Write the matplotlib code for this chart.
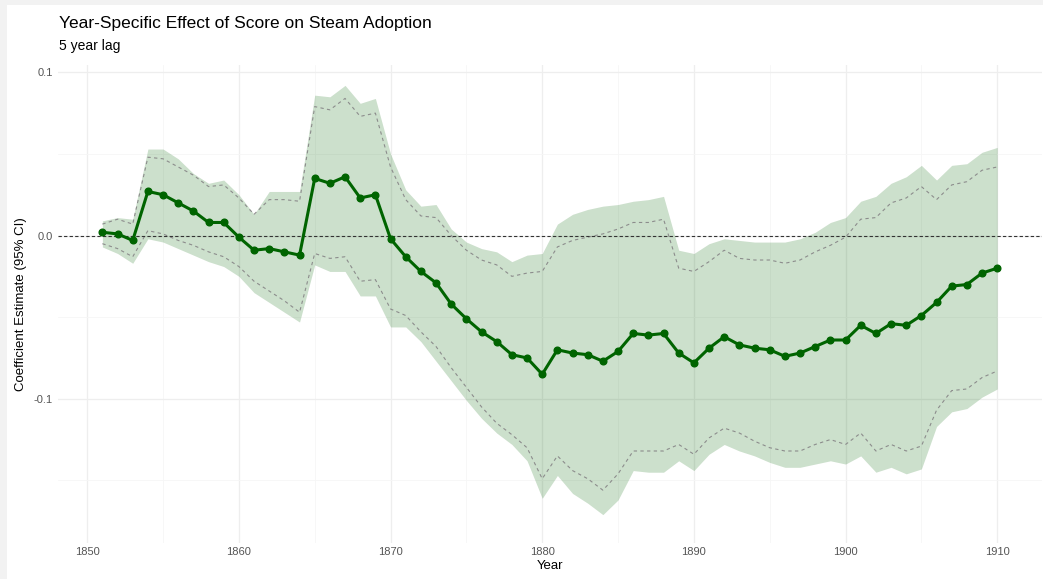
import matplotlib
matplotlib.use("Agg")
import matplotlib.pyplot as plt
import matplotlib.patches as mpatches
import numpy as np

plt.rcParams['font.family'] = ['Liberation Sans', 'DejaVu Sans']

# Year-specific coefficients (5 year lag)
years = list(range(1851, 1911))

estimate = [
    0.002, 0.001, -0.003, 0.027, 0.025, 0.020, 0.015, 0.008, 0.008, -0.001,
    -0.009, -0.008, -0.010, -0.012, 0.035, 0.032, 0.036, 0.023, 0.025, -0.002,
    -0.013, -0.022, -0.029, -0.042, -0.051, -0.059, -0.065, -0.073, -0.075, -0.085,
    -0.070, -0.072, -0.073, -0.077, -0.071, -0.060, -0.061, -0.060, -0.072, -0.078,
    -0.069, -0.062, -0.067, -0.069, -0.070, -0.074, -0.072, -0.068, -0.064, -0.064,
    -0.055, -0.060, -0.054, -0.055, -0.049, -0.041, -0.031, -0.030, -0.023, -0.020,
]

# 95% confidence band
ci95_upper = [
    0.009, 0.011, 0.010, 0.053, 0.053, 0.047, 0.038, 0.032, 0.034, 0.025,
    0.013, 0.027, 0.027, 0.027, 0.086, 0.085, 0.092, 0.081, 0.084, 0.050,
    0.028, 0.018, 0.019, 0.004, -0.004, -0.008, -0.010, -0.016, -0.012, -0.011,
    0.007, 0.013, 0.016, 0.018, 0.019, 0.021, 0.022, 0.024, -0.009, -0.011,
    -0.005, -0.002, -0.003, -0.004, -0.004, -0.004, -0.002, 0.002, 0.008, 0.011,
    0.021, 0.024, 0.032, 0.036, 0.043, 0.034, 0.043, 0.044, 0.051, 0.054,
]
ci95_lower = [
    -0.007, -0.011, -0.017, -0.002, -0.004, -0.008, -0.012, -0.016, -0.019, -0.025,
    -0.035, -0.041, -0.047, -0.053, -0.018, -0.022, -0.022, -0.037, -0.037, -0.056,
    -0.056, -0.065, -0.077, -0.089, -0.101, -0.112, -0.121, -0.128, -0.138, -0.161,
    -0.147, -0.158, -0.164, -0.171, -0.162, -0.144, -0.145, -0.145, -0.138, -0.144,
    -0.134, -0.128, -0.132, -0.135, -0.139, -0.142, -0.142, -0.140, -0.138, -0.140,
    -0.135, -0.145, -0.142, -0.146, -0.143, -0.117, -0.108, -0.106, -0.099, -0.094,
]

# Inner (dashed) interval
inner_upper = [
    0.007, 0.010, 0.007, 0.048, 0.047, 0.042, 0.037, 0.030, 0.031, 0.023,
    0.013, 0.022, 0.022, 0.021, 0.079, 0.077, 0.084, 0.073, 0.075, 0.042,
    0.022, 0.012, 0.011, 0.000, -0.009, -0.015, -0.018, -0.025, -0.023, -0.022,
    -0.007, -0.003, -0.001, 0.001, 0.004, 0.008, 0.008, 0.010, -0.020, -0.022,
    -0.016, -0.009, -0.014, -0.015, -0.015, -0.017, -0.015, -0.010, -0.006, -0.001,
    0.010, 0.011, 0.020, 0.023, 0.030, 0.022, 0.031, 0.033, 0.040, 0.042,
]
inner_lower = [
    -0.005, -0.008, -0.013, 0.003, 0.001, -0.003, -0.006, -0.010, -0.013, -0.019,
    -0.028, -0.034, -0.040, -0.047, -0.011, -0.014, -0.013, -0.028, -0.027, -0.045,
    -0.049, -0.059, -0.068, -0.081, -0.093, -0.105, -0.115, -0.122, -0.130, -0.149,
    -0.135, -0.144, -0.149, -0.156, -0.146, -0.132, -0.132, -0.132, -0.128, -0.134,
    -0.124, -0.118, -0.121, -0.126, -0.130, -0.132, -0.132, -0.128, -0.125, -0.128,
    -0.121, -0.132, -0.128, -0.132, -0.129, -0.107, -0.095, -0.094, -0.087, -0.083,
]

x_ticks = [1850, 1860, 1870, 1880, 1890, 1900, 1910]
y_ticks = [-0.1, 0.0, 0.1]
y_tick_labels = ["-0.1", "0.0", "0.1"]

line_green = "#006400"

fig = plt.figure(figsize=(10.43, 5.79), dpi=100, facecolor="white")
ax = fig.add_axes([0.056, 0.0618, 0.943, 0.826])
ax.set_facecolor("white")

# Grid (major + minor), minimal theme look
ax.set_xticks(x_ticks)
ax.set_xticks([1855, 1865, 1875, 1885, 1895, 1905], minor=True)
ax.set_yticks(y_ticks)
ax.set_yticks([-0.15, -0.05, 0.05], minor=True)
ax.grid(which="major", color="#EEEEEE", linewidth=0.9)
ax.grid(which="minor", color="#F6F6F6", linewidth=0.6)
ax.set_axisbelow(True)
for s in ax.spines.values():
    s.set_visible(False)
ax.tick_params(which="both", length=0)
ax.tick_params(axis="both", labelsize=8, labelcolor="#555555")
ax.tick_params(axis="x", pad=3)
ax.tick_params(axis="y", pad=4)
ax.set_yticklabels(y_tick_labels)

yrs = np.array(years)
ax.fill_between(yrs, ci95_lower, ci95_upper, color=line_green, alpha=0.2,
                linewidth=0, zorder=2)
ax.plot(yrs, inner_upper, color="#8C8C8C", linestyle=(0, (3, 3)),
        linewidth=0.8, zorder=3)
ax.plot(yrs, inner_lower, color="#8C8C8C", linestyle=(0, (3, 3)),
        linewidth=0.8, zorder=3)
ax.axhline(0, color="#333333", linestyle=(0, (3, 2)), linewidth=0.8, zorder=3)
ax.plot(yrs, estimate, color=line_green, linewidth=2.2, marker="o",
        markersize=4.8, zorder=4)

ax.set_xlim(1848.1, 1912.95)
ax.set_ylim(-0.1885, 0.1045)

ax.set_xlabel("Year", fontsize=9.5, color="black", labelpad=2)
ax.set_ylabel("Coefficient Estimate (95% CI)", fontsize=9.5, color="black",
              labelpad=5)

fig.text(0.057, 0.952, "Year-Specific Effect of Score on Steam Adoption",
         fontsize=12.5, color="black", ha="left", va="baseline")
fig.text(0.057, 0.914, "5 year lag", fontsize=10, color="black",
         ha="left", va="baseline")

# thin light frame along the top and left edges
fig.patches.append(mpatches.Rectangle((0, 0), 7 / 1043, 1, transform=fig.transFigure,
                                      facecolor="#F2F2F2", edgecolor="none", zorder=0))
fig.patches.append(mpatches.Rectangle((0, 1 - 5 / 579), 1, 5 / 579, transform=fig.transFigure,
                                      facecolor="#F2F2F2", edgecolor="none", zorder=0))

fig.savefig("out.png", dpi=100, facecolor="white")
